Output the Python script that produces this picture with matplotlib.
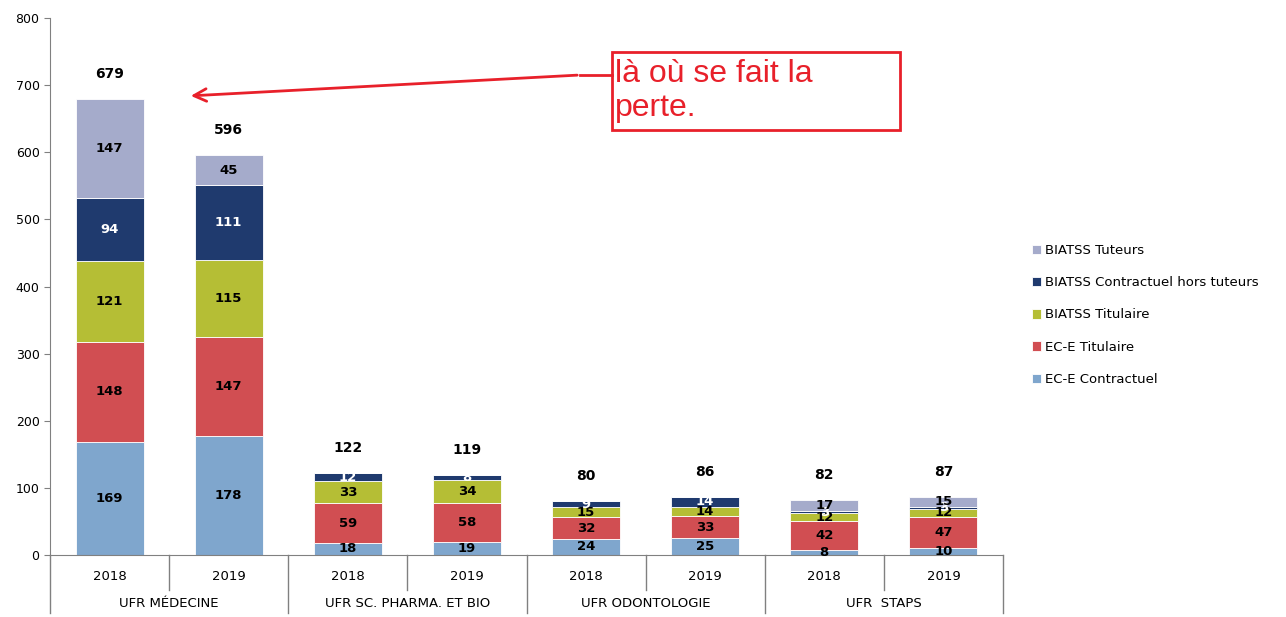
import matplotlib
matplotlib.use("Agg")
from matplotlib import pyplot as plt
from matplotlib.patches import Rectangle
import numpy as np

plt.rcParams['font.family'] = ['DejaVu Sans']

# data
ufr = ["UFR MÉDECINE", "UFR SC. PHARMA. ET BIO", "UFR ODONTOLOGIE", "UFR  STAPS"]
years = ["2018", "2019"]
series_names = ["EC-E Contractuel", "EC-E Titulaire", "BIATSS Titulaire",
                "BIATSS Contractuel hors tuteurs", "BIATSS Tuteurs"]
ece_contractuel = [169, 178, 18, 19, 24, 25, 8, 10]
ece_titulaire = [148, 147, 59, 58, 32, 33, 42, 47]
biatss_titulaire = [121, 115, 33, 34, 15, 14, 12, 12]
biatss_contractuel = [94, 111, 12, 8, 9, 14, 3, 3]
biatss_tuteurs = [147, 45, 0, 0, 0, 0, 17, 15]
totals = [679, 596, 122, 119, 80, 86, 82, 87]

colors = ["#7FA6CD", "#D14E52", "#B5BE35", "#1F3A6E", "#A5ABCB"]
label_colors = ["black", "black", "black", "white", "black"]

fig = plt.figure(figsize=(12.86, 6.17), dpi=100)
ax = fig.add_axes([50 / 1286, 1 - 555 / 617, 953 / 1286, 537 / 617])

all_series = [ece_contractuel, ece_titulaire, biatss_titulaire, biatss_contractuel, biatss_tuteurs]
x = np.arange(len(totals))
bottom = np.zeros(len(totals))
for vals, col, lc, name in zip(all_series, colors, label_colors, series_names):
    vals = np.array(vals)
    ax.bar(x, vals, 0.57, bottom=bottom, color=col, label=name, edgecolor="white", linewidth=0.6)
    for xi, v, b in zip(x, vals, bottom):
        if v > 0:
            ax.text(xi, b + v / 2, str(v), ha="center", va="center",
                    fontsize=9.5, fontweight="bold", color=lc)
    bottom += vals

for xi, t in zip(x, totals):
    ax.annotate(str(t), (xi, t), xytext=(0, 13), textcoords="offset points",
                ha="center", va="bottom", fontsize=10, fontweight="bold")

ax.set_xlim(-0.5, len(totals) - 0.5)
ax.set_ylim(0, 800)
ax.set_yticks(range(0, 801, 100))
ax.tick_params(axis="y", labelsize=9, length=4, color="#808080")
ax.set_xticks([])
for s in ["top", "right"]:
    ax.spines[s].set_visible(False)
ax.spines["left"].set_color("#808080")
ax.spines["bottom"].set_color("#808080")

# two level category axis
tr = ax.get_xaxis_transform()
for xi, yr in zip(x, years * len(ufr)):
    ax.text(xi, -0.04, yr, transform=tr, ha="center", va="center", fontsize=9.5)
for k in range(len(totals) + 1):
    xb = k - 0.5
    depth = -0.108 if k % 2 == 0 else -0.065
    ax.plot([xb, xb], [0, depth], transform=tr, color="#808080", lw=1, clip_on=False)
for g, name in enumerate(ufr):
    ax.text(2 * g + 0.5, -0.09, name, transform=tr, ha="center", va="center", fontsize=9.5)

handles, labels = ax.get_legend_handles_labels()
fig.legend(handles[::-1], labels[::-1], loc="center left", bbox_to_anchor=(1020 / 1286, 1 - 315 / 617),
           frameon=False, fontsize=9.5, handlelength=0.7, handleheight=0.7,
           handletextpad=0.3, labelspacing=1.45)

# red annotation box with arrow
fig.patches.append(Rectangle((612 / 1286, 1 - 130 / 617), 288 / 1286, 78 / 617,
                             transform=fig.transFigure, fill=False, edgecolor="#E8202A", lw=2))
fig.text(615 / 1286, 1 - 91 / 617, "là où se fait la\nperte.", color="#E8202A",
         fontsize=23, family="Liberation Sans", va="center", ha="left", linespacing=1.15)
fig.lines.append(plt.Line2D([580 / 1286, 612 / 1286], [1 - 75 / 617, 1 - 75 / 617],
                            transform=fig.transFigure, color="#E8202A", lw=2))
ax.annotate("", xy=(188 / 1286, 1 - 96 / 617), xycoords="figure fraction",
            xytext=(580 / 1286, 1 - 75 / 617), textcoords="figure fraction",
            arrowprops=dict(arrowstyle="->,head_length=0.9,head_width=0.45", color="#E8202A", lw=2))

fig.savefig("out.png", dpi=100)
